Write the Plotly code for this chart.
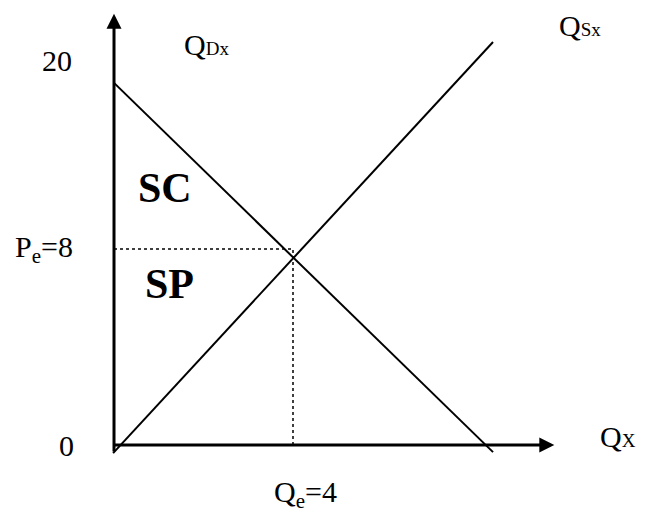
import plotly.graph_objects as go

# market values (Q on x, P on y)
q_e = 4
p_e = 8
demand_q = [0, 8.47]
demand_p = [14.78, -0.29]
supply_q = [-0.02, 8.47]
supply_p = [-0.33, 16.45]
y_tick_top = 20

# axis extents
x_axis_end = 9.84
y_axis_end = 17.6
axis_start = -0.33

FONT = "Liberation Serif, Times New Roman, serif"

fig = go.Figure()

fig.add_trace(go.Scatter(x=demand_q, y=demand_p, mode="lines",
                         line=dict(color="black", width=2), hoverinfo="skip"))
fig.add_trace(go.Scatter(x=supply_q, y=supply_p, mode="lines",
                         line=dict(color="black", width=2), hoverinfo="skip"))
fig.add_trace(go.Scatter(x=[0, q_e, q_e], y=[p_e, p_e, 0], mode="lines",
                         line=dict(color="black", width=1.5, dash="dot"),
                         hoverinfo="skip"))

# axes drawn as arrows
fig.add_annotation(x=x_axis_end, y=0, ax=-0.02, ay=0, axref="x", ayref="y",
                   text="", showarrow=True, arrowhead=2, arrowwidth=3,
                   arrowsize=1, arrowcolor="black", standoff=0)
fig.add_annotation(x=0, y=y_axis_end, ax=0, ay=axis_start, axref="x", ayref="y",
                   text="", showarrow=True, arrowhead=2, arrowwidth=3,
                   arrowsize=1, arrowcolor="black", standoff=0)

small = "<span style='font-size:19px'>%s</span>"
labels = [
    (-1.27, 15.71, str(y_tick_top), "center"),
    (-2.25, p_e, "P<sub>e</sub>=" + str(p_e), "left"),
    (-1.07, 0, "0", "center"),
    (4.27, -2.0, "Q<sub>e</sub>=" + str(q_e), "center"),
    (2.06, 16.33, "Q" + small % "Dx", "center"),
    (10.41, 17.14, "Q" + small % "Sx", "center"),
    (11.72, 0.33, "Q" + small % "X", "right"),
]
for x, y, t, anc in labels:
    fig.add_annotation(x=x, y=y, text=t, showarrow=False, xanchor=anc,
                       font=dict(family=FONT, size=30, color="black"))

for x, y, t in [(1.14, 10.49, "SC"), (1.25, 6.59, "SP")]:
    fig.add_annotation(x=x, y=y, text="<b>%s</b>" % t, showarrow=False,
                       font=dict(family=FONT, size=42, color="black"))

# page body has an 8px margin, so ranges are shifted to compensate
fig.update_layout(
    width=648, height=511,
    margin=dict(l=0, r=0, t=0, b=0),
    plot_bgcolor="white", paper_bgcolor="white",
    showlegend=False,
    xaxis=dict(range=[-2.369, 12.112], visible=False, fixedrange=True),
    yaxis=dict(range=[-3.02, 17.837], visible=False, fixedrange=True),
)

fig.write_html("out.html", config={"displayModeBar": False})
